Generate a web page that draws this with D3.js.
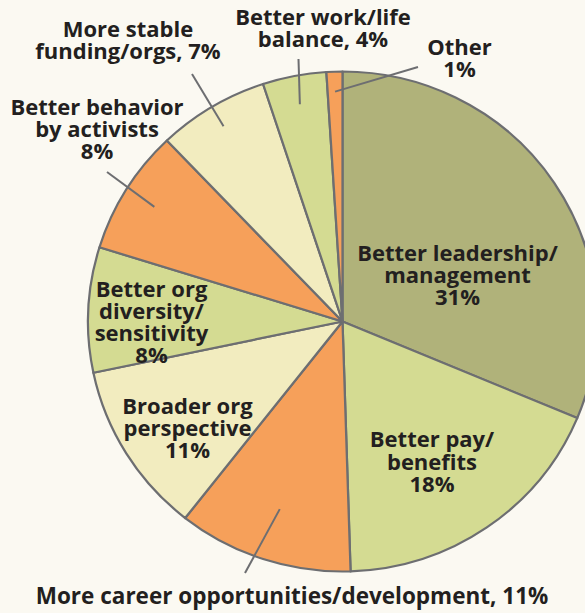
<!DOCTYPE html>
<html>
<head>
<meta charset="utf-8">
<script src="https://cdn.jsdelivr.net/npm/d3@7"></script>
<style>
  html, body { margin: 0; padding: 0; background: #fbf9f2; }
  svg { display: block; }
</style>
</head>
<body>
<svg id="chart" width="585" height="613"></svg>
<script>
// ---- data ----
const categories = [
  "Better leadership/management",
  "Better pay/benefits",
  "More career opportunities/development",
  "Broader org perspective",
  "Better org diversity/sensitivity",
  "Better behavior by activists",
  "More stable funding/orgs",
  "Better work/life balance",
  "Other"
];
const values = [31, 18, 11, 11, 8, 8, 7, 4, 1];
const sliceColors = ["#b0b27a", "#d4db92", "#f6a05a", "#f2ecbf", "#d4db92", "#f6a05a", "#f2ecbf", "#d4db92", "#f6a05a"];
const labelLines = [
  ["Better leadership/", "management", "{p}"],
  ["Better pay/", "benefits", "{p}"],
  ["More career opportunities/development, {p}"],
  ["Broader org", "perspective", "{p}"],
  ["Better org", "diversity/", "sensitivity", "{p}"],
  ["Better behavior", "by activists", "{p}"],
  ["More stable", "funding/orgs, {p}"],
  ["Better work/life", "balance, {p}"],
  ["Other", "{p}"]
];

// ---- layout (positions only) ----
const cx = 342.5, cy = 321.5, radius = 250, xStretch = 1.018;
const labelPos = [
  { x: 457.5, y: 261, lh: 22 },
  { x: 432, y: 447, lh: 22.5 },
  { x: 292, y: 604, lh: 22, fs: 22.5, leader: { r: 0.79, x: 245, y: 573 } },
  { x: 187.5, y: 414, lh: 22 },
  { x: 151.5, y: 297, lh: 22 },
  { x: 97, y: 115, lh: 22, leader: { r: 0.87, x: 107, y: 172 } },
  { x: 128, y: 37, lh: 22, leader: { r: 0.91, x: 192, y: 74 } },
  { x: 323, y: 25, lh: 22, leader: { r: 0.885, x: 298.5, y: 59 } },
  { x: 459.5, y: 55, lh: 22, leader: { r: 0.92, x: 418, y: 67 } }
];

const svg = d3.select("#chart");
svg.append("rect").attr("width", 585).attr("height", 613).attr("fill", "#fbf9f2");

const data = categories.map((c, i) => ({ cat: c, value: values[i], i }));
const pie = d3.pie().value(d => d.value).sort(null);
const arcs = pie(data);
const arc = d3.arc().innerRadius(0).outerRadius(radius);

const g = svg.append("g").attr("transform", `translate(${cx},${cy}) scale(${xStretch},1)`);
g.selectAll("path.slice")
  .data(arcs)
  .join("path")
  .attr("class", "slice")
  .attr("d", arc)
  .attr("fill", d => sliceColors[d.data.i])
  .attr("stroke", "#6d6e71")
  .attr("stroke-width", 2.2)
  .attr("stroke-linejoin", "round");

// leader lines
const stroke = "#6d6e71";
arcs.forEach(a => {
  const lp = labelPos[a.data.i];
  if (!lp.leader) return;
  const mid = (a.startAngle + a.endAngle) / 2;
  const rr = radius * lp.leader.r;
  const x1 = cx + Math.sin(mid) * rr * xStretch;
  const y1 = cy - Math.cos(mid) * rr;
  svg.append("line")
    .attr("x1", x1).attr("y1", y1)
    .attr("x2", lp.leader.x).attr("y2", lp.leader.y)
    .attr("stroke", stroke).attr("stroke-width", 2);
});

// labels
const labels = svg.append("g")
  .attr("font-family", "'Open Sans', sans-serif")
  .attr("font-weight", 700)
  .attr("font-size", 22)
  .attr("fill", "#231f20")
  .attr("text-anchor", "middle");

data.forEach(d => {
  const lp = labelPos[d.i];
  const t = labels.append("text").attr("x", lp.x).attr("y", lp.y);
  if (lp.fs) t.attr("font-size", lp.fs);
  labelLines[d.i].forEach((ln, k) => {
    t.append("tspan")
      .attr("x", lp.x)
      .attr("y", lp.y + k * lp.lh)
      .text(ln.replace("{p}", d.value + "%"));
  });
});
</script>
</body>
</html>
